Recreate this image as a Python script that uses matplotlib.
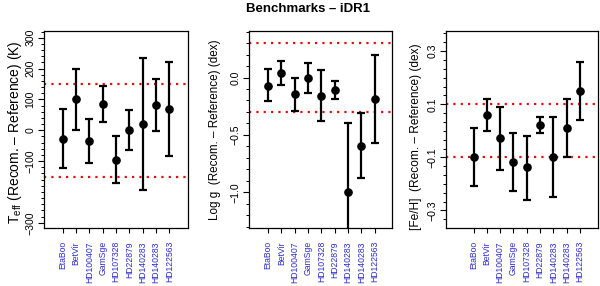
import matplotlib
matplotlib.use("Agg")
import matplotlib.pyplot as plt
from matplotlib.ticker import MultipleLocator, FixedLocator

plt.rcParams['font.family'] = ['Liberation Sans', 'DejaVu Sans']
plt.rcParams['mathtext.fontset'] = 'custom'
plt.rcParams['mathtext.rm'] = 'Liberation Sans'

stars = ["EtaBoo", "BetVir", "HD100407", "GamSge", "HD107328",
         "HD22879", "HD140283", "HD140283", "HD122563"]

teff_val = [-27, 100, -35, 86, -95, 0, 20, 82, 68]
teff_lo = [-122, 0, -105, 27, -170, -65, -195, -2, -82]
teff_hi = [69, 200, 37, 142, -20, 66, 233, 167, 221]

logg_val = [-0.07, 0.043, -0.147, -0.006, -0.159, -0.11, -0.994, -0.592, -0.188]
logg_lo = [-0.208, -0.061, -0.289, -0.139, -0.382, -0.188, -1.6, -0.873, -0.572]
logg_hi = [0.072, 0.142, -0.006, 0.124, 0.064, -0.029, -0.393, -0.312, 0.194]

feh_val = [-0.1, 0.061, -0.028, -0.118, -0.138, 0.021, -0.1, 0.011, 0.151]
feh_lo = [-0.209, -0.001, -0.149, -0.228, -0.259, -0.009, -0.248, -0.1, 0.042]
feh_hi = [0.012, 0.121, 0.091, -0.007, -0.018, 0.052, 0.051, 0.121, 0.259]

teff_lim = [-150, 150]
logg_lim = [-0.3, 0.3]
feh_lim = [-0.1, 0.1]

W, H = 600, 286
fig = plt.figure(figsize=(6, 2.86), dpi=100)

BLUE = "#2b2bd0"

def panel(box, vals, lo, hi, lims, ylim, xlim, major, minor, ylabel, ylx, ylc,
          ylfs, ticklabels):
    l, r, t, b = box
    ax = fig.add_axes([l / W, 1 - b / H, (r - l) / W, (b - t) / H])
    x = list(range(1, len(vals) + 1))
    err = [[v - a for v, a in zip(vals, lo)], [c - v for v, c in zip(vals, hi)]]
    ax.errorbar(x, vals, yerr=err, fmt="o", color="black", ms=5.2,
                elinewidth=1.6, capsize=2.8, capthick=1.6, zorder=3)
    for v in lims:
        ax.axhline(v, color="#e01010", lw=1.6, ls=(0, (1, 2.3)), zorder=2)
    ax.set_xlim(*xlim)
    ax.set_ylim(*ylim)
    ax.set_xticks(x)
    ax.set_xticklabels(stars, rotation=90, color=BLUE, fontsize=6.2)
    ax.yaxis.set_major_locator(FixedLocator(major))
    ax.yaxis.set_minor_locator(MultipleLocator(minor))
    ax.set_yticklabels(ticklabels, fontsize=7.6)
    ax.tick_params(axis="y", labelrotation=90, length=4, width=0.8, pad=2)
    ax.tick_params(axis="y", which="minor", length=2.3, width=0.7)
    ax.tick_params(axis="x", length=3.5, width=0.8, pad=6)
    for s in ax.spines.values():
        s.set_linewidth(0.9)
    for lab in ax.get_yticklabels():
        lab.set_va("center")
    fig.text(ylx / W, 1 - ylc / H, ylabel, rotation=90,
             ha="center", va="center", fontsize=ylfs)
    return ax

panel((44, 188, 31, 228), teff_val, teff_lo, teff_hi, teff_lim,
      (-317, 322), (-0.4, 10.4), [-300, -100, 0, 100, 200, 300], 20,
      r"T$_{\rm eff}$ (Recom. – Reference) (K)", 15, 132, 10,
      ["−300", "−100", "0", "100", "200", "300"])

panel((249, 392, 31, 228), logg_val, logg_lo, logg_hi, logg_lim,
      (-1.31, 0.405), (-0.43, 10.3), [-1.0, -0.5, 0.0], 0.1,
      "Log g  (Recom. – Reference) (dex)", 215, 130, 8.4,
      ["−1.0", "−0.5", "0.0"])

panel((446, 598, 31, 228), feh_val, feh_lo, feh_hi, feh_lim,
      (-0.366, 0.376), (-1.07, 10.35), [-0.3, -0.1, 0.1, 0.3], 0.2 / 6,
      "[Fe/H]  (Recom. – Reference) (dex)", 416, 137, 8.6,
      ["−0.3", "−0.1", "0.1", "0.3"])

fig.text(308 / W, 1 - 9.5 / H, "Benchmarks – iDR1", ha="center", va="center",
         fontsize=9.5, fontweight="bold")

fig.savefig("out.png", dpi=100, facecolor="white")
